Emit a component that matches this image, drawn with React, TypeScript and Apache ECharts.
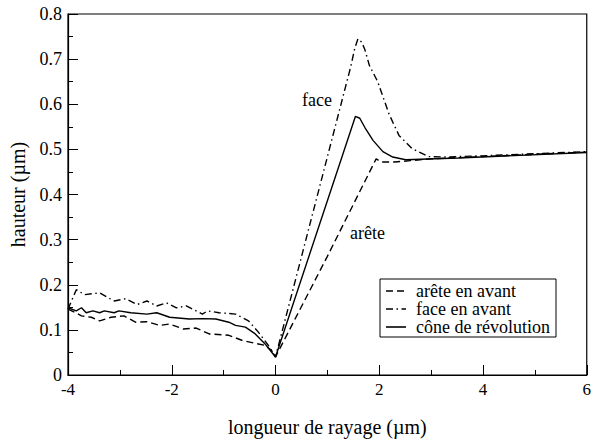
import React, { useEffect, useRef } from "react";
import * as echarts from "echarts";

const areteX = [-4, -3.85, -3.74, -3.55, -3.39, -3.17, -2.92, -2.7, -2.48, -2.23, -2.04, -1.78, -1.53, -1.28, -0.9, -0.65, -0.39, -0.21, -0.08, 0, 1.0, 1.94, 2.04, 2.3, 2.6, 3.0, 4.0, 5.0, 6.0];
const areteY = [0.146, 0.138, 0.131, 0.128, 0.12, 0.128, 0.131, 0.117, 0.118, 0.11, 0.113, 0.102, 0.104, 0.091, 0.088, 0.077, 0.07, 0.066, 0.055, 0.04, 0.263, 0.479, 0.472, 0.472, 0.475, 0.479, 0.484, 0.489, 0.494];

const faceX = [-4, -3.84, -3.68, -3.39, -3.11, -2.89, -2.67, -2.48, -2.29, -2.1, -1.91, -1.72, -1.41, -1.31, -1.09, -0.77, -0.52, -0.33, -0.14, 0, 1.45, 1.53, 1.59, 1.66, 1.72, 1.81, 1.97, 2.19, 2.38, 2.63, 2.95, 3.3, 4.5, 6.0];
const faceY = [0.146, 0.189, 0.178, 0.182, 0.164, 0.169, 0.156, 0.164, 0.153, 0.16, 0.149, 0.153, 0.135, 0.142, 0.138, 0.135, 0.12, 0.095, 0.066, 0.04, 0.683, 0.725, 0.745, 0.738, 0.722, 0.686, 0.65, 0.578, 0.531, 0.502, 0.484, 0.483, 0.488, 0.495];

const coneX = [-4, -3.84, -3.74, -3.65, -3.52, -3.39, -3.3, -3.11, -3.02, -2.79, -2.48, -2.29, -2.04, -1.66, -1.41, -1.15, -0.9, -0.77, -0.58, -0.39, -0.21, 0, 1.54, 1.625, 1.72, 1.88, 2.07, 2.26, 2.51, 3.52, 6.0];
const coneY = [0.149, 0.142, 0.149, 0.138, 0.142, 0.138, 0.142, 0.138, 0.142, 0.138, 0.135, 0.138, 0.128, 0.124, 0.125, 0.124, 0.117, 0.11, 0.106, 0.091, 0.07, 0.04, 0.573, 0.569, 0.549, 0.52, 0.495, 0.483, 0.477, 0.481, 0.493];

const seriesNames = ["arête en avant", "face en avant", "cône de révolution"];
const xTicks = [-4, -2, 0, 2, 4, 6];
const yTicks = [0, 0.1, 0.2, 0.3, 0.4, 0.5, 0.6, 0.7, 0.8];

const zip = (xs: number[], ys: number[]) => xs.map((x, i) => [x, ys[i]]);

const FONT = "Liberation Serif";
const DASH = [7, 4];
const DASHDOT = [7, 3.5, 1.5, 3.5];

export default function App() {
  const ref = useRef<HTMLDivElement>(null);
  useEffect(() => {
    if (!ref.current) return;
    const chart = echarts.init(ref.current, undefined, { renderer: "svg" });
    const lineBase = { color: "#000", width: 1.4 };
    const dashes = [DASH, DASHDOT, null];
    const legendRows = [291, 309, 327];
    const legendTexts: any[] = seriesNames.map((n, i) => ({
      type: "text",
      x: 416,
      y: legendRows[i] - 9,
      style: { text: n, fontFamily: FONT, fontSize: 18, fill: "#000" },
    }));
    const legendShapes: any[] = [
      { type: "rect", shape: { x: 380, y: 279, width: 176, height: 58 }, style: { fill: "none", stroke: "#000", lineWidth: 1 } },
      ...seriesNames.map((n, i) => ({
        type: "line",
        shape: { x1: 386, y1: legendRows[i], x2: 406, y2: legendRows[i] },
        style: { stroke: "#000", lineWidth: 1.6, lineDash: dashes[i] || undefined },
      })),
    ];
    chart.setOption({
      animation: false,
      grid: {
        left: 63,
        top: 14,
        right: 3,
        bottom: 58,
        show: true,
        borderColor: "#000",
        borderWidth: 1.2,
      },
      xAxis: {
        type: "value",
        min: xTicks[0],
        max: xTicks[xTicks.length - 1],
        interval: 2,
        name: "longueur de rayage (µm)",
        nameLocation: "middle",
        nameGap: 42,
        nameTextStyle: { fontFamily: FONT, fontSize: 20, color: "#000" },
        axisLine: { onZero: false, lineStyle: { color: "#000", width: 1.2 } },
        axisTick: { inside: true, length: 10, lineStyle: { color: "#000" } },
        minorTick: { show: true, splitNumber: 2, length: 5, lineStyle: { color: "#000" } },
        splitLine: { show: false },
        axisLabel: { fontFamily: FONT, fontSize: 17, color: "#000", margin: 6 },
      },
      yAxis: {
        type: "value",
        min: yTicks[0],
        max: yTicks[yTicks.length - 1],
        interval: 0.1,
        name: "hauteur (µm)",
        nameLocation: "middle",
        nameGap: 40,
        nameTextStyle: { fontFamily: FONT, fontSize: 20, color: "#000" },
        axisLine: { show: true, onZero: false, lineStyle: { color: "#000", width: 1.2 } },
        axisTick: { show: true, inside: true, length: 10, lineStyle: { color: "#000" } },
        minorTick: { show: true, splitNumber: 2, length: 5, lineStyle: { color: "#000" } },
        splitLine: { show: false },
        axisLabel: {
          fontFamily: FONT,
          fontSize: 18,
          color: "#000",
          margin: 6,
          formatter: (v: number) => (v === 0 ? "0" : v.toFixed(1)),
        },
      },
      graphic: [
        { type: "text", x: 302, y: 91, style: { text: "face", fontFamily: FONT, fontSize: 18, fill: "#000" } },
        { type: "text", x: 350, y: 224, style: { text: "arête", fontFamily: FONT, fontSize: 18, fill: "#000" } },
        ...legendTexts,
        ...legendShapes,
      ],
      series: [
        {
          name: seriesNames[0],
          type: "line",
          data: zip(areteX, areteY),
          symbol: "none",
          showSymbol: false,
          lineStyle: { ...lineBase, type: DASH },
        },
        {
          name: seriesNames[1],
          type: "line",
          data: zip(faceX, faceY),
          symbol: "none",
          showSymbol: false,
          lineStyle: { ...lineBase, type: DASHDOT },
        },
        {
          name: seriesNames[2],
          type: "line",
          data: zip(coneX, coneY),
          symbol: "none",
          showSymbol: false,
          lineStyle: { ...lineBase, type: "solid" },
        },
      ],
    });
    return () => chart.dispose();
  }, []);
  return <div ref={ref} style={{ width: 594, height: 442, position: "absolute", left: 0, top: 0 }} />;
}
